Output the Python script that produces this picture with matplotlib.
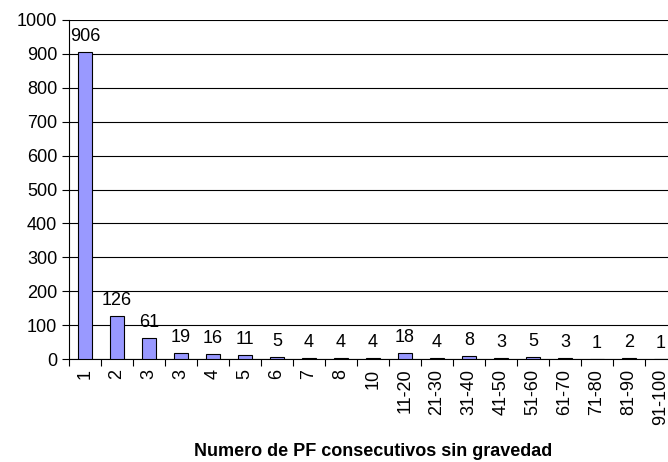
import matplotlib.pyplot as plt

categorias = ['1', '2', '3', '3', '4', '5', '6', '7', '8', '10', '11-20',
              '21-30', '31-40', '41-50', '51-60', '61-70', '71-80', '81-90',
              '91-100']
valores = [906, 126, 61, 19, 16, 11, 5, 4, 4, 4, 18, 4, 8, 3, 5, 3, 1, 2, 1]

plt.rcParams['font.family'] = ['Liberation Sans', 'DejaVu Sans']

fig = plt.figure(figsize=(6.68, 4.62), dpi=100)
# plot area runs past the right edge, as in the original
ax = fig.add_axes([69 / 668, 1 - 359 / 462, (677 - 69) / 668, (359 - 20) / 462])

x = list(range(len(categorias)))
ax.bar(x, valores, width=0.42, color='#9999FF', edgecolor='#000000',
       linewidth=0.8, zorder=3)

for xi, v in zip(x, valores):
    ax.annotate(str(v), (xi, v), xytext=(0, 5), textcoords='offset points',
                ha='center', va='bottom', fontsize=13)

ax.set_xlim(-0.5, len(categorias) - 0.5)
ax.set_ylim(0, 1000)
ax.set_yticks(range(0, 1001, 100))
ax.tick_params(axis='y', labelsize=13, length=5, width=0.8, direction='out')

ax.set_xticks([i + 0.5 for i in x[:-1]] + [-0.5], minor=False)
ax.set_xticklabels([])
ax.set_xticks(x, minor=True)
ax.set_xticklabels(categorias, minor=True, rotation=90, fontsize=13)
ax.tick_params(axis='x', which='major', length=5, width=0.8, direction='out')
ax.tick_params(axis='x', which='minor', length=0, pad=7)

ax.grid(axis='y', color='#000000', linewidth=0.8, zorder=0)
for s in ['top', 'right']:
    ax.spines[s].set_visible(False)
ax.spines['left'].set_linewidth(0.8)
ax.spines['bottom'].set_linewidth(0.8)

fig.text(373 / 668, 1 - 452 / 462, 'Numero de PF consecutivos sin gravedad',
         ha='center', va='center', fontsize=13, fontweight='bold')

fig.savefig('out.png', dpi=100)
